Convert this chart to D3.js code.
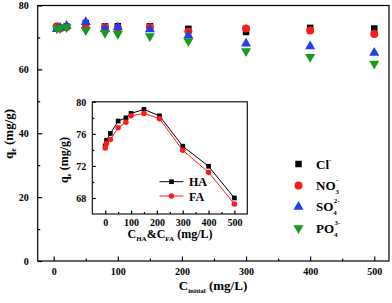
<!DOCTYPE html>
<html>
<head>
<meta charset="utf-8">
<script src="https://cdn.jsdelivr.net/npm/d3@7"></script>
<style>
  body { margin: 0; background: #fff; }
  svg { display: block; font-family: 'Liberation Serif', 'DejaVu Serif', serif; font-weight: bold; }
  .axis path, .axis line { stroke: #000; stroke-width: 1.2; }
  .axis text { font-family: 'Liberation Serif', serif; font-weight: bold; font-size: 10px; fill: #000; }
</style>
</head>
<body>
<div id="chart"></div>
<script>
// main chart: C_initial vs q_e for each co-existing anion
const conc = [5, 10, 20, 50, 80, 100, 150, 210, 300, 400, 500];
const clVals = [73.2, 73.0, 73.4, 74.5, 73.5, 73.5, 73.5, 72.7, 71.7, 73.0, 72.8];
const no3Vals = [73.5, 72.8, 73.3, 73.0, 73.3, 73.0, 73.2, 71.9, 72.8, 72.2, 71.1];
const so4Vals = [72.6, 73.0, 73.6, 74.8, 72.7, 73.2, 72.5, 70.6, 68.1, 67.2, 65.2];
const po4Vals = [72.8, 72.9, 73.2, 72.3, 71.4, 71.1, 70.4, 68.8, 65.7, 63.9, 61.8];
const mainXTicks = [0, 100, 200, 300, 400, 500];
const mainYTicks = [0, 20, 40, 60, 80];

// inset: C_HA & C_FA vs q_e
const insetConc = [0, 5, 20, 50, 80, 100, 150, 210, 300, 400, 500];
const haVals = [74.5, 75.2, 76.05, 77.6, 78.0, 78.55, 79.05, 78.25, 74.46, 71.96, 68.0];
const faVals = [74.25, 74.8, 75.3, 76.75, 77.46, 78.25, 78.55, 77.9, 73.96, 71.2, 67.25];
const insetXTicks = [0, 100, 200, 300, 400, 500];
const insetYTicks = [68, 72, 76, 80];

const width = 392, height = 303;
const svg = d3.select('#chart').append('svg')
  .attr('width', width).attr('height', height);

const x = d3.scaleLinear().domain([-25, 523]).range([37.7, 389]);
const y = d3.scaleLinear().domain([0, 80]).range([261, 5.5]);

// frame
svg.append('rect')
  .attr('x', x.range()[0]).attr('y', y.range()[1])
  .attr('width', x.range()[1] - x.range()[0])
  .attr('height', y.range()[0] - y.range()[1])
  .attr('fill', 'none').attr('stroke', '#000').attr('stroke-width', 1.2);

// minor ticks
svg.append('g').attr('class', 'axis')
  .attr('transform', `translate(0, ${y.range()[0]})`)
  .call(d3.axisBottom(x).tickValues(d3.range(50, 550, 100)).tickSize(-2.5).tickFormat(''))
  .call(g => g.select('.domain').remove());
svg.append('g').attr('class', 'axis')
  .attr('transform', `translate(${x.range()[0]}, 0)`)
  .call(d3.axisLeft(y).tickValues(d3.range(10, 80, 20)).tickSize(-2.5).tickFormat(''))
  .call(g => g.select('.domain').remove());

// major ticks
svg.append('g').attr('class', 'axis')
  .attr('transform', `translate(0, ${y.range()[0]})`)
  .call(d3.axisBottom(x).tickValues(mainXTicks).tickSizeInner(-4.5).tickSizeOuter(0).tickPadding(7))
  .call(g => g.select('.domain').remove());
svg.append('g').attr('class', 'axis')
  .attr('transform', `translate(${x.range()[0]}, 0)`)
  .call(d3.axisLeft(y).tickValues(mainYTicks).tickSizeInner(-4.5).tickSizeOuter(0).tickPadding(9))
  .call(g => g.select('.domain').remove());

// axis titles
const xTitle = svg.append('text')
  .attr('x', 213).attr('y', 290).attr('text-anchor', 'middle')
  .attr('font-size', 13);
xTitle.append('tspan').text('C');
xTitle.append('tspan').attr('font-size', 7).attr('dy', 3).text('initial');
xTitle.append('tspan').attr('dy', -3).text(' (mg/L)');

const yTitle = svg.append('text')
  .attr('transform', 'translate(13, 134) rotate(-90)')
  .attr('text-anchor', 'middle').attr('font-size', 13);
yTitle.append('tspan').text('q');
yTitle.append('tspan').attr('font-size', 8).attr('dy', 3).text('e');
yTitle.append('tspan').attr('dy', -3).text(' (mg/g)');

// symbols
const colors = { cl: '#000000', no3: '#ff1a1a', so4: '#1f3ff0', po4: '#1a9a1a' };
const sym = {
  cl: d3.symbol(d3.symbolSquare, 42),
  no3: d3.symbol(d3.symbolCircle, 50),
  so4: d3.symbol(d3.symbolTriangle, 44),
  po4: d3.symbol(d3.symbolTriangle, 44)
};
const series = [
  { key: 'cl', vals: clVals },
  { key: 'no3', vals: no3Vals },
  { key: 'so4', vals: so4Vals },
  { key: 'po4', vals: po4Vals }
];

series.forEach(s => {
  svg.append('g').selectAll('path')
    .data(conc.map((c, i) => [c, s.vals[i]]))
    .join('path')
    .attr('d', sym[s.key])
    .attr('transform', d => `translate(${x(d[0])}, ${y(d[1])})` + (s.key === 'po4' ? ' rotate(180)' : ''))
    .attr('fill', colors[s.key]);
});

// legend
const legend = svg.append('g');
const legendRows = [
  { key: 'cl', label: ['Cl', null, '-'] },
  { key: 'no3', label: ['NO', '3', '-'] },
  { key: 'so4', label: ['SO', '4', '2-'] },
  { key: 'po4', label: ['PO', '4', '3-'] }
];
legendRows.forEach((r, i) => {
  const ly = 164 + i * 21.4;
  legend.append('path')
    .attr('d', sym[r.key])
    .attr('transform', `translate(298.5, ${ly})` + (r.key === 'po4' ? ' rotate(180)' : ''))
    .attr('fill', colors[r.key]);
  const t = legend.append('text').attr('x', 316).attr('y', ly + 4.5).attr('font-size', 13);
  t.append('tspan').text(r.label[0]);
  if (r.label[1]) {
    t.append('tspan').attr('font-size', 7).attr('dy', 4).text(r.label[1]);
    t.append('tspan').attr('font-size', 7).attr('dx', -3).attr('dy', -12).text(r.label[2]);
  } else {
    t.append('tspan').attr('font-size', 7).attr('dy', -7).text(r.label[2]);
  }
});

// ---- inset ----
const ix = d3.scaleLinear().domain([-50, 550]).range([92.3, 247.3]);
const iy = d3.scaleLinear().domain([66, 80]).range([214, 101.8]);
const inset = svg.append('g');

inset.append('rect')
  .attr('x', ix.range()[0]).attr('y', iy.range()[1])
  .attr('width', ix.range()[1] - ix.range()[0])
  .attr('height', iy.range()[0] - iy.range()[1])
  .attr('fill', '#fff').attr('stroke', '#000').attr('stroke-width', 1.1);

inset.append('g').attr('class', 'axis')
  .attr('transform', `translate(0, ${iy.range()[0]})`)
  .call(d3.axisBottom(ix).tickValues(d3.range(50, 550, 100)).tickSize(-2).tickFormat(''))
  .call(g => g.select('.domain').remove());
inset.append('g').attr('class', 'axis')
  .attr('transform', `translate(${ix.range()[0]}, 0)`)
  .call(d3.axisLeft(iy).tickValues([70, 74, 78]).tickSize(-2).tickFormat(''))
  .call(g => g.select('.domain').remove());
inset.append('g').attr('class', 'axis')
  .attr('transform', `translate(0, ${iy.range()[0]})`)
  .call(d3.axisBottom(ix).tickValues(insetXTicks).tickSizeInner(-3.5).tickSizeOuter(0).tickPadding(5))
  .call(g => g.select('.domain').remove());
inset.append('g').attr('class', 'axis')
  .attr('transform', `translate(${ix.range()[0]}, 0)`)
  .call(d3.axisLeft(iy).tickValues(insetYTicks).tickSizeInner(-3.5).tickSizeOuter(0).tickPadding(6))
  .call(g => g.select('.domain').remove());

const ixTitle = inset.append('text')
  .attr('x', 170).attr('y', 238).attr('text-anchor', 'middle').attr('font-size', 12);
ixTitle.append('tspan').text('C');
ixTitle.append('tspan').attr('font-size', 7).attr('dy', 3).text('HA');
ixTitle.append('tspan').attr('dy', -3).text('&C');
ixTitle.append('tspan').attr('font-size', 7).attr('dy', 3).text('FA');
ixTitle.append('tspan').attr('dy', -3).text(' (mg/L)');

const iyTitle = inset.append('text')
  .attr('transform', 'translate(68, 160) rotate(-90)')
  .attr('text-anchor', 'middle').attr('font-size', 12);
iyTitle.append('tspan').text('q');
iyTitle.append('tspan').attr('font-size', 7).attr('dy', 3).text('e');
iyTitle.append('tspan').attr('dy', -3).text(' (mg/g)');

const line = d3.line().x(d => ix(d[0])).y(d => iy(d[1]));
const insetSeries = [
  { name: 'HA', vals: haVals, color: '#000000', symbol: d3.symbol(d3.symbolSquare, 22) },
  { name: 'FA', vals: faVals, color: '#ff1a1a', symbol: d3.symbol(d3.symbolCircle, 24) }
];
insetSeries.forEach((s, si) => {
  const pts = insetConc.map((c, i) => [c, s.vals[i]]);
  inset.append('path').attr('d', line(pts))
    .attr('fill', 'none').attr('stroke', s.color).attr('stroke-width', 1);
  inset.append('g').selectAll('path').data(pts).join('path')
    .attr('d', s.symbol)
    .attr('transform', d => `translate(${ix(d[0])}, ${iy(d[1])})`)
    .attr('fill', s.color);
  // legend entry
  const ly = 181.7 + si * 14.3;
  inset.append('line').attr('x1', 159.5).attr('x2', 183.5).attr('y1', ly).attr('y2', ly)
    .attr('stroke', s.color).attr('stroke-width', 1);
  inset.append('path').attr('d', s.symbol)
    .attr('transform', `translate(171.5, ${ly})`).attr('fill', s.color);
  inset.append('text').attr('x', 189).attr('y', ly + 4.5).attr('font-size', 12).text(s.name);
});
</script>
</body>
</html>
